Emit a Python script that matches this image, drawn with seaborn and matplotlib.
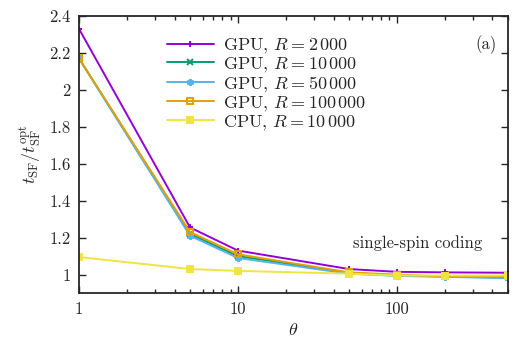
import numpy as np
import pandas as pd
import seaborn as sns
import matplotlib
matplotlib.use("Agg")
import matplotlib.pyplot as plt
from matplotlib.ticker import LogLocator, NullFormatter, FixedLocator, FixedFormatter

sns.set_theme(
    style="ticks",
    rc={
        "axes.linewidth": 1.3,
        "xtick.direction": "in",
        "ytick.direction": "in",
        "xtick.top": True,
        "ytick.right": True,
        "xtick.major.size": 5,
        "ytick.major.size": 5,
        "xtick.minor.size": 3,
        "xtick.major.width": 1.0,
        "ytick.major.width": 1.0,
        "mathtext.fontset": "cm",
        "axes.formatter.use_mathtext": True,
    },
)
plt.rcParams["font.family"] = ["cmr10", "DejaVu Serif"]

theta = [1, 5, 10, 50, 100, 200, 500]
gpu_2000 = [2.33, 1.255, 1.13, 1.03, 1.015, 1.012, 1.01]
gpu_10000 = [2.17, 1.22, 1.10, 1.01, 0.995, 0.99, 0.985]
gpu_50000 = [2.17, 1.21, 1.09, 1.005, 0.993, 0.988, 0.98]
gpu_100000 = [2.17, 1.23, 1.11, 1.012, 1.0, 0.99, 0.99]
cpu_10000 = [1.095, 1.03, 1.02, 1.005, 0.995, 0.995, 0.995]

labels = [r"GPU, $R = 2\,000$", r"GPU, $R = 10\,000$", r"GPU, $R = 50\,000$",
          r"GPU, $R = 100\,000$", r"CPU, $R = 10\,000$"]
series = [gpu_2000, gpu_10000, gpu_50000, gpu_100000, cpu_10000]
colors = ["#9400D3", "#009E73", "#56B4E9", "#E69F00", "#F0E442"]
markers = ["+", "x", (6, 2, 0), "s", "s"]
filled = [True, True, True, False, True]

df = pd.concat([pd.DataFrame({"theta": theta, "ratio": s, "label": l})
                for s, l in zip(series, labels)])

fig = plt.figure(figsize=(5.32, 3.46), dpi=100)
ax = fig.add_axes([0.1485, 0.153, 0.806, 0.801])

for lab, col, mk, fl in zip(labels, colors, markers, filled):
    sub = df[df["label"] == lab]
    sns.lineplot(data=sub, x="theta", y="ratio", ax=ax, color=col, lw=1.4,
                 marker=mk, markersize=5, markeredgewidth=1.4,
                 markerfacecolor=(col if fl else "none"), markeredgecolor=col,
                 label=lab)

ax.set_xscale("log")
ax.set_xlim(1, 500)
ax.set_ylim(0.9, 2.4)
ax.xaxis.set_major_locator(FixedLocator([1, 10, 100]))
ax.xaxis.set_major_formatter(FixedFormatter(["1", "10", "100"]))
ax.xaxis.set_minor_locator(LogLocator(base=10, subs=np.arange(2, 10)))
ax.xaxis.set_minor_formatter(NullFormatter())
yt = [1, 1.2, 1.4, 1.6, 1.8, 2, 2.2, 2.4]
ax.yaxis.set_major_locator(FixedLocator(yt))
ax.yaxis.set_major_formatter(FixedFormatter(["1", "1.2", "1.4", "1.6", "1.8", "2", "2.2", "2.4"]))
ax.tick_params(labelsize=12, pad=6)
ax.set_xlabel(r"$\theta$", fontsize=13)
ax.set_ylabel(r"$t_{\rm SF}/t_{\rm SF}^{\rm opt}$", fontsize=13)

ax.text(0.975, 0.895, "(a)", transform=ax.transAxes, ha="right", va="center", fontsize=12)
ax.text(0.94, 0.18, "single-spin coding", transform=ax.transAxes, ha="right", va="center", fontsize=12)

ax.legend(loc="upper left", bbox_to_anchor=(0.18, 0.965), frameon=False, fontsize=13,
          handlelength=2.6, labelspacing=0.0, borderpad=0.1, handletextpad=0.5)

fig.savefig("out.png", dpi=100)
